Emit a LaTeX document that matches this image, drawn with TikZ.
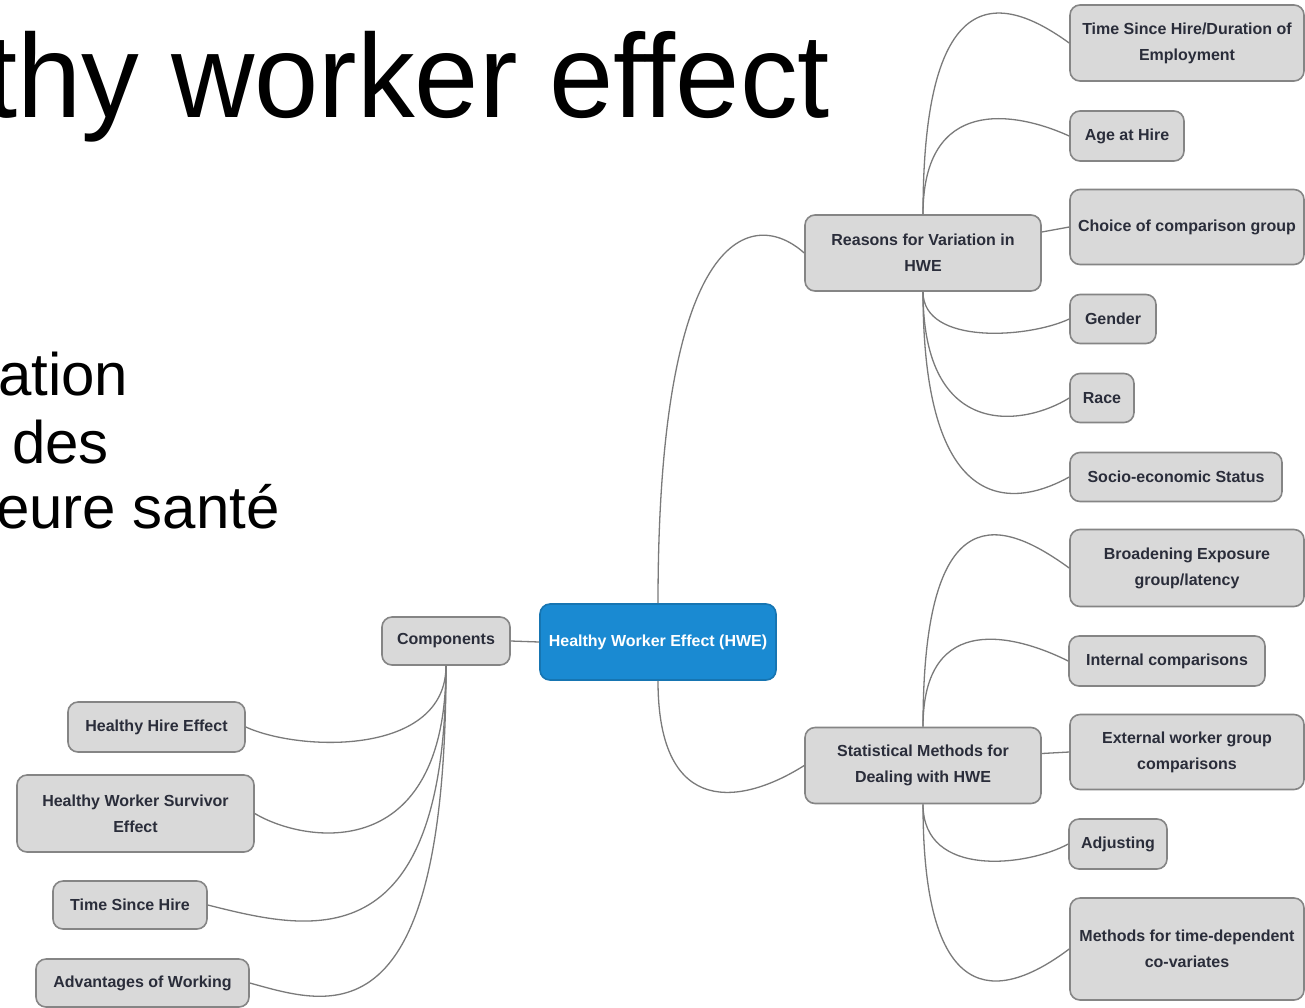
\documentclass[tikz,border=0pt]{standalone}
\usepackage{fontspec}
\setmainfont{Liberation Sans}
\definecolor{boxfill}{HTML}{D9D9D9}
\definecolor{boxdraw}{HTML}{858585}
\definecolor{linecol}{HTML}{7A7A7A}
\definecolor{hweblue}{HTML}{1A8AD2}
\definecolor{txtcol}{HTML}{2A2D3A}
\newcommand\mmboxfont{\fontsize{16}{26}\selectfont\bfseries}
\begin{document}
\begin{tikzpicture}[x=1pt,y=-1pt,
  mmbox/.style={draw=boxdraw, fill=boxfill, line width=1.6pt, rounded corners=10pt,
    align=center, font=\mmboxfont, text=txtcol, inner sep=0pt},
  hwebox/.style={mmbox, draw=hweblue!85!black, fill=hweblue, text=white},
  conn/.style={draw=linecol, line width=1.3pt},
  bigtext/.style={anchor=base west, inner sep=0pt, text=black}]
\clip (0,0) rectangle (1305,1007);
\fill[white] (0,0) rectangle (1305,1007);

% title and body fragments
\node[bigtext, font=\fontsize{119}{140}\selectfont] (title) at (-15,117) {\scalebox{0.97}[1]{thy worker effect}};
\node[bigtext, font=\fontsize{60}{66}\selectfont] (l1) at (-2,395) {ation};
\node[bigtext, font=\fontsize{60}{66}\selectfont] (l2) at (12,463) {des};
\node[bigtext, font=\fontsize{60}{66}\selectfont] (l3) at (-4,528) {eure santé};

% nodes
\node[hwebox, minimum width=236pt, minimum height=76pt] (hwe) at (658,642) {Healthy Worker Effect (HWE)};
\node[mmbox, minimum width=128pt, minimum height=48pt] (comp) at (446,641) {Components};
\node[mmbox, minimum width=236pt, minimum height=76pt] (reasons) at (923,253) {Reasons for Variation in\\HWE};
\node[mmbox, minimum width=236pt, minimum height=76pt] (stat) at (923,765.5) {Statistical Methods for\\Dealing with HWE};

\node[mmbox, minimum width=234pt, minimum height=76pt] (t1) at (1187,43) {Time Since Hire/Duration of\\Employment};
\node[mmbox, minimum width=114pt, minimum height=50pt] (age) at (1127,136) {Age at Hire};
\node[mmbox, minimum width=234pt, minimum height=75pt] (choice) at (1187,227) {Choice of comparison group};
\node[mmbox, minimum width=86pt, minimum height=49pt] (gender) at (1113,319) {Gender};
\node[mmbox, minimum width=64pt, minimum height=49pt] (race) at (1102,398) {Race};
\node[mmbox, minimum width=212pt, minimum height=49pt] (ses) at (1176,477) {Socio-economic Status};

\node[mmbox, minimum width=234pt, minimum height=77pt] (broad) at (1187,568) {Broadening Exposure\\group/latency};
\node[mmbox, minimum width=196pt, minimum height=50pt] (internal) at (1167,661) {Internal comparisons};
\node[mmbox, minimum width=234pt, minimum height=75pt] (external) at (1187,752) {External worker group\\comparisons};
\node[mmbox, minimum width=98pt, minimum height=50pt] (adjust) at (1118,844) {Adjusting};
\node[mmbox, minimum width=234pt, minimum height=102pt] (methods) at (1187,949) {Methods for time-dependent\\co-variates};

\node[mmbox, minimum width=177pt, minimum height=50pt] (hhe) at (156.5,727) {Healthy Hire Effect};
\node[mmbox, minimum width=237pt, minimum height=77pt] (hwse) at (135.5,813.5) {Healthy Worker Survivor\\Effect};
\node[mmbox, minimum width=154pt, minimum height=48pt] (tsh) at (130,905) {Time Since Hire};
\node[mmbox, minimum width=213pt, minimum height=48pt] (adv) at (142.5,983) {Advantages of Working};

% connectors
\draw[conn] (comp.east) -- (hwe.west);
\draw[conn] (hwe.north) .. controls +(0,-380) and +(-50,-45) .. (reasons.west);
\draw[conn] (hwe.south) .. controls +(0,140) and +(-60,38) .. (stat.west);

\draw[conn] (reasons.north) .. controls +(0,-240) and +(-65,-47) .. (t1.west);
\draw[conn] (reasons.north) .. controls +(0,-118) and +(-55,-25) .. (age.west);
\draw[conn] ([yshift=21pt]reasons.east) -- (choice.west);
\draw[conn] (reasons.south) .. controls +(0,54) and +(-40,19) .. (gender.west);
\draw[conn] (reasons.south) .. controls +(0,150) and +(-45,28) .. (race.west);
\draw[conn] (reasons.south) .. controls +(0,240) and +(-45,25) .. (ses.west);

\draw[conn] (stat.north) .. controls +(0,-238) and +(-65,-47) .. (broad.west);
\draw[conn] (stat.north) .. controls +(0,-118) and +(-50,-25) .. (internal.west);
\draw[conn] ([yshift=12pt]stat.east) -- (external.west);
\draw[conn] (stat.south) .. controls +(0,75) and +(-40,22) .. (adjust.west);
\draw[conn] (stat.south) .. controls +(0,220) and +(-60,45) .. (methods.west);

\draw[conn] (comp.south) .. controls +(0,90) and +(55,25) .. (hhe.east);
\draw[conn] (comp.south) .. controls +(0,200) and +(50,30) .. (hwse.east);
\draw[conn] (comp.south) .. controls +(0,300) and +(100,25) .. (tsh.east);
\draw[conn] (comp.south) .. controls +(0,380) and +(80,22) .. (adv.east);
\end{tikzpicture}
\end{document}
